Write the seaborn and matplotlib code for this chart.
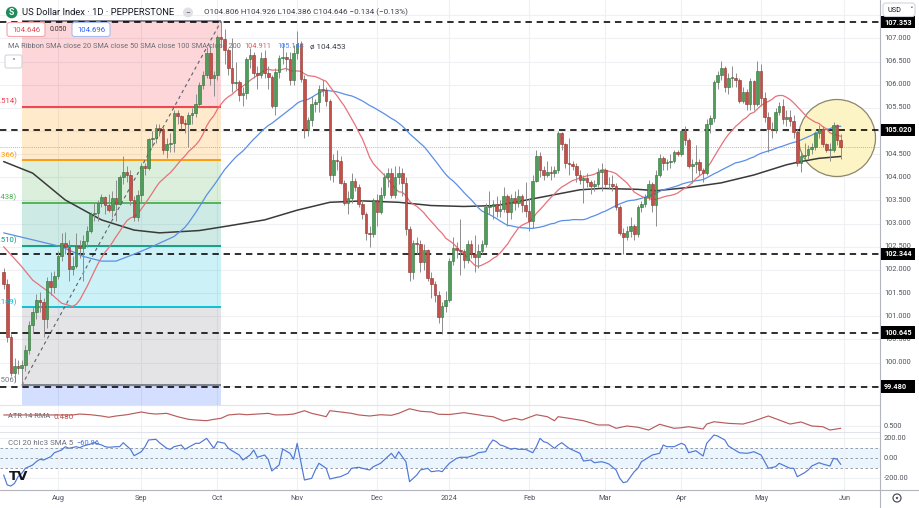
import numpy as np
import pandas as pd
import matplotlib
matplotlib.use("Agg")
import matplotlib.pyplot as plt
import seaborn as sns
from matplotlib.patches import Rectangle, Ellipse, Circle, FancyBboxPatch
from matplotlib.lines import Line2D

# ------------------------------------------------------------------ data
first_open = 101.95
closes = [
    101.70, 100.55, 99.77, 99.92, 99.88, 99.95, 100.28, 100.80, 101.08, 101.36, 101.30, 100.95, 101.75, 101.62, 101.86,
    102.30, 102.58, 102.50, 102.02, 102.08, 102.52, 102.48, 102.62, 102.85, 103.20, 103.22, 103.45, 103.58, 103.40, 103.30,
    103.55, 103.42, 104.00, 104.12, 104.05, 103.50, 103.15, 103.62,
    104.25, 104.20, 104.82, 104.85, 105.07, 105.05, 104.58, 104.72, 104.75, 105.38, 105.32, 105.18, 105.15, 105.35, 105.38,
    105.58, 106.00, 106.22, 106.68, 106.15, 106.20,
    107.02, 106.98, 106.75, 106.35, 106.04, 106.05, 105.78, 105.82, 106.56, 106.65, 106.26, 106.22, 106.58, 106.26, 106.16,
    105.55, 106.28, 106.58, 106.60, 106.56, 106.10, 106.68,
    106.88, 106.13, 105.03, 105.24, 105.58, 105.62, 105.90, 105.88, 105.65, 104.05, 104.38, 104.35, 103.88, 103.45, 103.55,
    103.92, 103.78, 103.42, 103.20, 102.80, 102.77, 103.50,
    103.25, 103.62, 104.00, 104.10, 103.62, 104.00, 104.10, 103.88, 102.88, 101.95, 102.58, 102.55, 102.18, 102.42, 101.82,
    101.70, 101.45, 100.98, 101.22, 101.35,
    102.20, 102.48, 102.42, 102.40, 102.22, 102.55, 102.35, 102.28, 102.40, 102.55, 103.35, 103.38, 103.42, 103.28, 103.32,
    103.60, 103.25, 103.55, 103.45, 103.60, 103.40, 103.28,
    103.05, 103.92, 104.45, 104.15, 104.05, 104.12, 104.10, 104.15, 104.95, 104.72, 104.30, 104.28, 104.25, 104.05, 103.95,
    103.98, 103.90, 103.82, 103.85, 104.12, 104.15,
    103.85, 103.85, 103.82, 103.35, 102.80, 102.72, 102.85, 102.95, 102.78, 103.35, 103.42, 103.58, 103.85, 103.40, 104.05,
    104.42, 104.30, 104.32, 104.35, 104.55, 104.50,
    105.00, 104.80, 104.25, 104.28, 104.32, 104.15, 104.10, 105.15, 105.28, 106.05, 106.22, 106.35, 105.95, 106.15, 106.15,
    106.10, 105.65, 105.85, 105.58, 106.08, 105.58, 106.30,
    105.72, 105.30, 105.05, 105.02, 105.42, 105.55, 105.25, 105.30, 105.22, 104.98, 104.30, 104.45, 104.48, 104.62, 104.65,
    104.95, 105.05, 104.72, 104.60, 104.60, 105.12, 104.806, 104.646,
]
highs = [
    102.05, 101.80, 100.62, 100.10, 100.05, 100.05, 100.38, 100.90, 101.20, 101.48, 101.52, 101.40, 101.85, 101.95, 101.98,
    102.40, 102.80, 102.82, 102.65, 102.30, 102.80, 102.65, 102.75, 102.95, 103.25, 103.45, 103.50, 103.65, 103.60, 103.65,
    103.70, 103.95, 104.05, 104.45, 104.25, 104.15, 103.60, 103.72,
    104.30, 104.30, 104.85, 105.00, 105.15, 105.15, 105.08, 104.85, 104.95, 105.45, 105.45, 105.35, 105.25, 105.40, 105.50,
    105.80, 106.05, 106.30, 106.82, 106.85, 106.30,
    107.08, 107.37, 107.20, 106.80, 107.00, 106.50, 106.10, 105.95, 106.60, 106.80, 106.70, 106.40, 106.70, 106.75, 106.40,
    106.20, 106.35, 106.65, 106.90, 106.70, 106.70, 106.85,
    107.15, 106.95, 106.20, 105.30, 105.75, 105.70, 106.00, 106.10, 105.95, 105.70, 104.50, 104.60, 104.45, 103.95, 103.70,
    104.10, 103.98, 103.85, 103.50, 103.25, 102.95, 103.55,
    103.65, 103.80, 104.10, 104.20, 104.20, 104.25, 104.25, 104.20, 104.00, 102.95, 102.65, 102.70, 102.65, 102.55, 102.45,
    101.95, 101.75, 101.55, 101.30, 101.55,
    102.25, 102.72, 102.60, 103.10, 102.45, 102.65, 102.65, 102.75, 102.55, 102.65, 103.45, 103.70, 103.50, 103.60, 103.50,
    103.80, 103.65, 103.65, 103.70, 103.75, 103.65, 103.90,
    103.55, 104.05, 104.60, 104.55, 104.25, 104.35, 104.25, 104.25, 105.00, 104.98, 104.75, 104.85, 104.35, 104.30, 104.15,
    104.05, 104.10, 103.95, 103.95, 104.20, 104.30,
    104.20, 104.00, 104.05, 103.88, 103.40, 102.90, 102.95, 103.15, 103.00, 103.40, 103.48, 103.65, 103.95, 103.90, 104.15,
    104.50, 104.45, 104.40, 104.50, 104.60, 104.60,
    105.05, 105.10, 104.85, 104.40, 104.70, 104.40, 104.20, 105.25, 105.35, 106.10, 106.30, 106.52, 106.40, 106.25, 106.40,
    106.25, 106.15, 105.95, 105.90, 106.15, 106.10, 106.52,
    106.45, 105.85, 105.40, 105.20, 105.50, 105.62, 105.70, 105.45, 105.45, 105.35, 105.05, 104.55, 104.75, 104.70, 104.75,
    105.00, 105.12, 105.10, 104.75, 104.75, 105.20, 105.15, 104.926,
]
lows = [
    101.58, 100.45, 99.70, 99.57, 99.75, 99.506, 99.82, 100.18, 100.65, 100.95, 101.10, 100.55, 100.75, 101.45, 101.50,
    101.80, 102.20, 102.35, 101.75, 101.90, 102.05, 102.25, 101.75, 102.50, 102.80, 103.05, 103.05, 103.35, 103.20, 103.25,
    103.15, 103.05, 103.40, 103.85, 103.90, 103.40, 103.05, 103.05,
    103.45, 104.05, 104.15, 104.65, 104.75, 104.90, 104.50, 104.42, 104.55, 104.55, 105.15, 105.05, 104.95, 104.65, 105.15,
    105.30, 105.55, 105.90, 106.15, 106.00, 105.75,
    106.10, 106.82, 106.45, 106.20, 105.85, 105.90, 105.65, 105.55, 105.70, 106.35, 106.15, 105.90, 106.15, 106.15, 105.90,
    105.50, 105.35, 106.15, 106.45, 106.30, 106.00, 106.00,
    106.55, 106.05, 104.85, 104.90, 105.10, 105.40, 105.40, 105.75, 105.55, 103.95, 103.90, 104.15, 103.85, 103.40, 103.20,
    103.45, 103.70, 103.35, 103.10, 102.65, 102.50, 102.70,
    102.95, 103.20, 103.55, 103.80, 103.55, 103.55, 103.85, 103.60, 102.75, 101.75, 101.80, 102.35, 101.95, 102.00, 101.75,
    101.40, 101.30, 100.85, 100.62, 101.10,
    101.30, 102.10, 102.25, 101.90, 102.05, 102.15, 102.25, 101.95, 102.05, 102.35, 102.50, 103.20, 103.10, 103.15, 103.15,
    103.25, 102.95, 103.10, 103.30, 103.35, 103.25, 103.15,
    102.85, 102.90, 103.90, 104.00, 103.95, 104.00, 103.95, 104.00, 104.10, 104.60, 104.20, 104.05, 104.15, 103.90, 103.85,
    103.45, 103.80, 103.65, 103.70, 103.80, 103.70,
    103.80, 103.75, 103.70, 103.30, 102.75, 102.34, 102.65, 102.70, 102.65, 102.70, 103.25, 103.35, 103.50, 103.25, 102.95,
    104.00, 104.15, 104.15, 104.20, 104.30, 104.45,
    104.45, 104.70, 104.20, 103.88, 104.10, 104.05, 103.90, 104.05, 104.95, 105.20, 105.90, 106.10, 105.85, 105.80, 105.95,
    105.95, 105.60, 105.60, 105.45, 105.45, 105.45, 105.55,
    105.55, 105.20, 104.55, 104.85, 104.95, 105.35, 105.15, 105.10, 105.10, 104.85, 104.25, 104.12, 104.40, 104.40, 104.50,
    104.60, 104.85, 104.65, 104.55, 104.35, 104.55, 104.70, 104.386,
]

# moving averages (bar number, value); SMA20/50 continue from closes
sma20_early = [(0, 102.50), (5, 102.07), (8, 101.78), (13, 101.49), (16, 101.28)]
sma50_early = [(0, 102.80), (8, 102.65), (16, 102.50), (22, 102.29), (27, 102.19), (31, 102.19),
               (36, 102.34), (40, 102.47), (47, 102.72)]
sma200_pts = [(0, 104.34), (8, 104.09), (17, 103.51), (27, 103.08), (36, 102.86), (43, 102.80), (54, 102.85),
              (62, 102.95), (72, 103.08), (81, 103.29), (90, 103.46), (99, 103.49), (109, 103.46), (118, 103.39),
              (127, 103.37), (136, 103.39), (145, 103.52), (159, 103.73), (165, 103.76), (175, 103.74),
              (180, 103.71), (189, 103.78), (198, 103.88), (207, 104.05), (216, 104.27), (220, 104.34),
              (225, 104.41), (231, 104.45)]

atr_pts = [(0, 0.596), (19, 0.596), (21, 0.604), (24, 0.598), (27, 0.587), (29, 0.576), (31, 0.587), (34, 0.598),
           (36, 0.610), (38, 0.622), (40, 0.610), (42, 0.604), (45, 0.610), (48, 0.581), (51, 0.558), (53, 0.552),
           (56, 0.546), (58, 0.558), (60, 0.567), (62, 0.596), (65, 0.604), (67, 0.598), (70, 0.604), (73, 0.610),
           (75, 0.596), (78, 0.598), (80, 0.604), (83, 0.633), (85, 0.610), (87, 0.596), (89, 0.581), (90, 0.633),
           (93, 0.622), (96, 0.610), (98, 0.596), (101, 0.587), (104, 0.598), (107, 0.593), (109, 0.610),
           (112, 0.650), (115, 0.628), (118, 0.622), (120, 0.602), (123, 0.600), (127, 0.616), (130, 0.602),
           (133, 0.587), (135, 0.581), (138, 0.543), (141, 0.567), (143, 0.552), (147, 0.598), (150, 0.581),
           (152, 0.546), (153, 0.581), (156, 0.567), (160, 0.546), (164, 0.509), (167, 0.509), (169, 0.480),
           (172, 0.500), (175, 0.489), (178, 0.465), (181, 0.515), (185, 0.480), (187, 0.485), (189, 0.494),
           (193, 0.474), (194, 0.517), (196, 0.537), (200, 0.523), (204, 0.517), (207, 0.543), (211, 0.587),
           (214, 0.552), (217, 0.517), (220, 0.535), (223, 0.500), (226, 0.494), (228, 0.465), (231, 0.480)]

cci_pts = [(0, -167), (1, -267), (2, -277), (3, -250), (4, -183), (5, -150), (6, -100), (8, -67), (9, -34),
           (10, -10), (11, -17), (13, 16), (14, 56), (16, 83), (17, 116), (18, 100), (20, 116), (21, 106),
           (22, 123), (24, 143), (25, 156), (27, 133), (28, 116), (29, 110), (31, 116), (32, 116), (33, 156),
           (35, 90), (36, 26), (38, 66), (39, 116), (40, 183), (42, 190), (43, 156), (45, 100), (46, 90),
           (47, 116), (49, 133), (50, 90), (51, 110), (53, 150), (54, 150), (56, 200), (58, 100), (59, 166),
           (61, 150), (62, 100), (63, 76), (65, 33), (66, -17), (68, 33), (69, 83), (70, 10), (72, 33), (73, -10),
           (74, -127), (76, -67), (77, 93), (79, 50), (80, -10), (81, 150), (83, -217), (85, -200), (86, -117),
           (87, -50), (89, -100), (90, -207), (92, -190), (93, -183), (95, -150), (96, -100), (98, -90),
           (99, -100), (101, -117), (102, -84), (104, -50), (105, -17), (107, 50), (108, 0), (109, 66),
           (111, -34), (112, -234), (114, -167), (115, -117), (117, -100), (118, -134), (120, -124), (121, -134),
           (122, -90), (123, -50), (125, 0), (126, 10), (128, 10), (130, 33), (131, 56), (133, 66), (134, 133),
           (135, 183), (136, 166), (137, 133), (138, 123), (140, 90), (141, 100), (142, 90), (144, 90), (146, 56),
           (147, 116), (148, 200), (149, 166), (150, 156), (152, 100), (153, 133), (154, 156), (156, 100),
           (157, 83), (159, 50), (160, -27), (162, -17), (163, -44), (165, -34), (166, -44), (167, -57),
           (169, -117), (170, -200), (171, -244), (172, -234), (174, -134), (175, -100), (176, -34), (178, 10),
           (179, 33), (181, 50), (182, 133), (183, 116), (185, 116), (187, 150), (188, 133), (189, 56), (191, 76),
           (193, 23), (194, 150), (196, 233), (197, 223), (199, 183), (200, 123), (201, 100), (203, 56), (205, 50),
           (206, 56), (207, 66), (209, 33), (210, -34), (211, -100), (213, -84), (214, -50), (216, -84),
           (217, -100), (218, -100), (219, -184), (221, -144), (222, -117), (223, -77), (225, -44), (226, -57),
           (228, -77), (229, 0), (230, -10), (231, -61)]

fib_low, fib_high = 99.506, 107.370
fib_ratios = [0, 0.236, 0.382, 0.5, 0.618, 0.786, 1]
key_levels = [107.353, 105.020, 102.344, 100.645, 99.480]
last_price = 104.646
month_labels = ["Aug", "Sep", "Oct", "Nov", "Dec", "2024", "Feb", "Mar", "Apr", "May", "Jun"]
price_ticks = [99.5, 100.0, 100.5, 101.0, 101.5, 102.0, 102.5, 103.0, 103.5, 104.0, 104.5, 105.0,
               105.5, 106.0, 106.5, 107.0, 107.5]

# ------------------------------------------------------------------ setup
sns.set_theme(style="white")
FONT = ["Roboto", "DejaVu Sans"]
plt.rcParams["font.family"] = FONT

W, H = 919, 508
fig = plt.figure(figsize=(W / 100, H / 100), dpi=100, facecolor="white")
renderer = fig.canvas.get_renderer()

dates = pd.bdate_range("2023-07-11", "2024-05-31").drop(pd.to_datetime(["2023-12-25", "2024-01-01"]))
n = len(dates)
assert n == len(closes) == len(highs) == len(lows), (n, len(closes), len(highs), len(lows))
opens = [first_open] + closes[:-1]
df = pd.DataFrame({"i": np.arange(n), "open": opens, "high": highs, "low": lows, "close": closes})

per = dates.to_period("M")
month_ticks = [k for k in range(1, n) if per[k] != per[k - 1]] + [n]


def px_axes(x0, y0, x1, y1):
    a = fig.add_axes([x0 / W, 1 - y1 / H, (x1 - x0) / W, (y1 - y0) / H])
    a.set_facecolor("none")
    for s in a.spines.values():
        s.set_visible(False)
    return a


X0, DX = 3.65, 3.624
XLIM = (-X0 / DX, (880 - X0) / DX)
PY0, PSC = 177.3, 46.3
PLIM = (104 - (405 - PY0) / PSC, 104 + PY0 / PSC)

ax = px_axes(0, 0, 880, 405)
ax_atr = px_axes(0, 405, 880, 432)
ax_cci = px_axes(0, 432, 880, 490)

GRID = "#eef0f3"
for a in (ax, ax_atr, ax_cci):
    a.set_xlim(*XLIM)
    a.set_xticks(month_ticks)
    a.tick_params(length=0, labelbottom=False, labelleft=False, labelright=False)
    a.grid(True, axis="both", color=GRID, lw=0.8, zorder=0)
    a.set_axisbelow(True)

ax.set_ylim(*PLIM)
ax.set_yticks(price_ticks)
ax_atr.set_ylim(0.5 - 6 / 115, 0.5 + 21 / 115)
ax_atr.set_yticks([0.5])
ax_cci.set_ylim(-317, 263)
ax_cci.set_yticks([-200, 200])

# ------------------------------------------------------------------ fibonacci
fib_start = dates.get_loc(pd.Timestamp("2023-07-18"))
fib_end = dates.get_loc(pd.Timestamp("2023-10-03"))
fib_levels = [fib_high - r * (fib_high - fib_low) for r in fib_ratios]
zone_cols = ["#f23645", "#ff9800", "#4caf50", "#089981", "#00bcd4", "#787b86"]
line_cols = ["#787b86", "#f23645", "#ff9800", "#4caf50", "#089981", "#00bcd4", "#787b86"]
for k in range(6):
    ax.add_patch(Rectangle((fib_start, fib_levels[k + 1]), fib_end - fib_start,
                           fib_levels[k] - fib_levels[k + 1], fc=zone_cols[k], alpha=0.2, lw=0, zorder=1))
ax.add_patch(Rectangle((fib_start, PLIM[0] - 1), fib_end - fib_start, fib_low - PLIM[0] + 1,
                       fc="#2962ff", alpha=0.2, lw=0, zorder=1))
for k, lv in enumerate(fib_levels):
    ax.plot([fib_start, fib_end], [lv, lv], color=line_cols[k], lw=1.3, zorder=2, solid_capstyle="butt")
    if k > 0:
        ax.text(3.7, lv + 0.04, f"{fib_ratios[k]}({lv:.3f})", ha="right", va="bottom",
                color=line_cols[k], fontsize=5.6, clip_on=True, zorder=6)
ax.plot([fib_start, fib_end], [fib_low, fib_high], color="#5d606b", lw=0.8, ls=(0, (3, 3)), zorder=3)

# ------------------------------------------------------------------ circle highlight
ax.add_patch(Ellipse((837 / 100, (H - 138) / 100), 0.77, 0.77, transform=fig.dpi_scale_trans,
                     fc="#fcf4c4", ec="#8c876c", lw=0.9, zorder=2.5))

# ------------------------------------------------------------------ levels
for lv in key_levels:
    ax.plot(XLIM, [lv, lv], color="black", lw=1.15, ls=(0, (4, 3)), zorder=3.2)
ax.plot(XLIM, [last_price, last_price], color="#f07a82", lw=0.6, ls=(0, (1, 1.5)), zorder=3.1)

# ------------------------------------------------------------------ moving averages
s20 = pd.Series(closes).rolling(20).mean()
s50 = pd.Series(closes).rolling(50).mean()
sma20_x = [p[0] for p in sma20_early] + list(range(19, n))
sma20_y = [p[1] for p in sma20_early] + list(s20.iloc[19:])
sma50_x = [p[0] for p in sma50_early] + list(range(49, n))
sma50_y = [p[1] for p in sma50_early] + list(s50.iloc[49:])
sns.lineplot(x=[p[0] for p in sma200_pts], y=[p[1] for p in sma200_pts], ax=ax, color="#3a3a3a",
             lw=1.1, legend=False, zorder=3.6)
sns.lineplot(x=sma50_x, y=sma50_y, ax=ax, color="#5b8fe6", lw=0.9, legend=False, zorder=3.7)
sns.lineplot(x=sma20_x, y=sma20_y, ax=ax, color="#e8717a", lw=0.9, legend=False, zorder=3.8)

# ------------------------------------------------------------------ candles
up = df["close"] >= df["open"]
body_lo = df[["open", "close"]].min(axis=1)
body_h = (df["close"] - df["open"]).abs().clip(lower=0.015)
ax.vlines(df["i"], df["low"], df["high"], color="#8d8d8d", lw=0.7, zorder=4)
ax.bar(df["i"][up], body_h[up], bottom=body_lo[up], width=0.72, color="#4f9d58",
       edgecolor="#2f6e38", linewidth=0.4, zorder=5)
ax.bar(df["i"][~up], body_h[~up], bottom=body_lo[~up], width=0.72, color="#c4504a",
       edgecolor="#8e302c", linewidth=0.4, zorder=5)
ax.set_xlim(*XLIM)
ax.set_ylim(*PLIM)
ax.set_xlabel("")
ax.set_ylabel("")

# ------------------------------------------------------------------ ATR and CCI panes
sns.lineplot(x=[p[0] for p in atr_pts], y=[p[1] for p in atr_pts], ax=ax_atr, color="#b85c5c",
             lw=0.85, legend=False)
ax_cci.axhspan(-100, 100, color="#2196f3", alpha=0.09, lw=0, zorder=0.5)
for v in (100, 0, -100):
    ax_cci.axhline(v, color="#8a8e9a", lw=0.6, ls=(0, (3, 3)), zorder=1)
sns.lineplot(x=[p[0] for p in cci_pts], y=[p[1] for p in cci_pts], ax=ax_cci, color="#4f78d6",
             lw=0.85, legend=False)
for a in (ax_atr, ax_cci):
    a.set_xlim(*XLIM)
    a.set_xlabel("")
    a.set_ylabel("")
ax_atr.set_ylim(0.5 - 6 / 115, 0.5 + 21 / 115)
ax_cci.set_ylim(-317, 263)


# ------------------------------------------------------------------ helpers for chrome
def fy(y):
    return 1 - y / H


def label(x, y, s, color, w=None, size=6.0, ha="left", va="center", weight="normal", z=8, family=None):
    t = fig.text(x / W, fy(y), s, color=color, fontsize=size, ha=ha, va=va,
                 fontweight=weight, zorder=z, family=family or FONT)
    if w is not None:
        bw = t.get_window_extent(renderer=renderer).width
        if bw > 0:
            t.set_fontsize(size * w / bw)
    return t


def rbox(x0, y0, x1, y1, fc, ec, lw=0.8, z=6, r=0.02):
    p = FancyBboxPatch((x0 / 100, (H - y1) / 100), (x1 - x0) / 100, (y1 - y0) / 100,
                       boxstyle=f"round,pad=0,rounding_size={r}", transform=fig.dpi_scale_trans,
                       fc=fc, ec=ec, lw=lw, zorder=z)
    fig.add_artist(p)


def hline(x0, x1, y, color, lw=0.8, z=5):
    fig.add_artist(Line2D([x0 / W, x1 / W], [fy(y), fy(y)], transform=fig.transFigure,
                          color=color, lw=lw, zorder=z))


def vline(x, y0, y1, color, lw=0.8, z=5):
    fig.add_artist(Line2D([x / W, x / W], [fy(y0), fy(y1)], transform=fig.transFigure,
                          color=color, lw=lw, zorder=z))


AX_TXT = "#50535e"
AXFS = 5.3

# separators / axis lines
hline(0, 880, 405, "#e0e3eb")
hline(0, 880, 432, "#e0e3eb")
hline(0, W, 490, "#b2b5be")
vline(880, 0, H, "#b2b5be")

# right price scale
for v in price_ticks:
    yy = PY0 - (v - 104) * PSC
    if yy > 20:
        label(884, yy, f"{v:.3f}", AX_TXT, size=AXFS, z=4)
label(884, 426, "0.500", AX_TXT, size=AXFS, z=4)
for v, s in ((200, "200.00"), (0, "0.00"), (-200, "-200.00")):
    label(884, 458.3 - v / 10, s, AX_TXT, size=AXFS, z=4)

for lv in key_levels:
    yy = PY0 - (lv - 104) * PSC
    ty = max(yy, 23.0)
    fig.add_artist(Rectangle((880.5 / 100, (H - yy - 6.2) / 100), 34.5 / 100, 12.4 / 100,
                             transform=fig.dpi_scale_trans, fc="black", ec="none", zorder=6))
    label(884, ty, f"{lv:.3f}", "white", size=AXFS, weight="bold", z=7)

# currency box
rbox(883, 3, 915, 16.5, "white", "#d1d4dc", z=9, r=0.03)
label(887, 10, "USD", "#131722", size=5.2, z=10)
label(909, 9.8, "˅", "#131722", size=5.2, z=10, family=["DejaVu Sans"])

# time axis labels
for t, s in zip(month_ticks, month_labels):
    label(X0 + DX * t, 498, s, AX_TXT, size=AXFS, ha="center", z=4)

# settings icon
fig.add_artist(Circle((897 / 100, (H - 498) / 100), 0.04, transform=fig.dpi_scale_trans,
                      fc="none", ec="#50535e", lw=0.9, zorder=6))
fig.add_artist(Circle((897 / 100, (H - 498) / 100), 0.012, transform=fig.dpi_scale_trans,
                      fc="#50535e", ec="none", zorder=6))

# header row 1
fig.add_artist(Circle((11.7 / 100, (H - 12.5) / 100), 0.058, transform=fig.dpi_scale_trans,
                      fc="#1f8a5b", ec="none", zorder=8))
label(11.7, 12.6, "S", "white", size=6.2, ha="center", weight="bold", z=9)
label(22, 12.6, "US Dollar Index · 1D · PEPPERSTONE", "#131722", w=152, size=7)
fig.add_artist(Circle((188 / 100, (H - 12.5) / 100), 0.05, transform=fig.dpi_scale_trans,
                      fc="#dfe1e6", ec="none", zorder=8))
label(188, 12.3, "−", "#50535e", size=6, ha="center", z=9)
label(204, 12.6, "O104.806 H104.926 L104.386 C104.646 −0.134 (−0.13%)", "#3b3f4a", w=204, size=6)

# header row 2
rbox(7, 22.5, 45, 36.5, "white", "#f3a5aa", z=8, r=0.025)
label(12, 29.6, "104.646", "#e04b53", w=28, size=6, z=9)
label(49.5, 29.6, "0.050", "#333333", w=18, size=6, z=9)
rbox(72, 22.5, 110, 36.5, "white", "#a9bdf0", z=8, r=0.025)
label(77, 29.6, "104.696", "#2962ff", w=28, size=6, z=9)

# header row 3 (MA ribbon legend)
label(8, 46.8, "MA Ribbon SMA close 20 SMA close 50 SMA close 100 SMA close 200", "#6b6e78", w=233, size=6)
label(244, 46.8, "104.911", "#e0575f", w=27, size=6)
label(277, 46.8, "105.143", "#4a84e8", w=27, size=6)
label(310, 46.8, "ø 104.453", "#3b3f4a", w=36, size=6)

# legend collapse button
rbox(5, 55, 22, 68, "white", "#d1d4dc", z=8, r=0.02)
label(13.5, 62, "˄", "#50535e", size=5.5, ha="center", z=9, family=["DejaVu Sans"])

# pane legends
label(8, 416.8, "ATR 14 RMA", "#6b6e78", w=42, size=5.5)
label(53, 416.8, "0.480", "#b5504c", w=20, size=5.5)
label(8, 443.3, "CCI 20 hlc3 SMA 5", "#6b6e78", w=65, size=5.5)
label(76, 443.3, "−60.96", "#4a72d8", w=23, size=5.5)

# watermark logo
label(9, 477, "TV", "#131722", size=9.5, weight="heavy", z=8, family=["DejaVu Sans"])

fig.savefig("out.png", dpi=100, facecolor="white")
